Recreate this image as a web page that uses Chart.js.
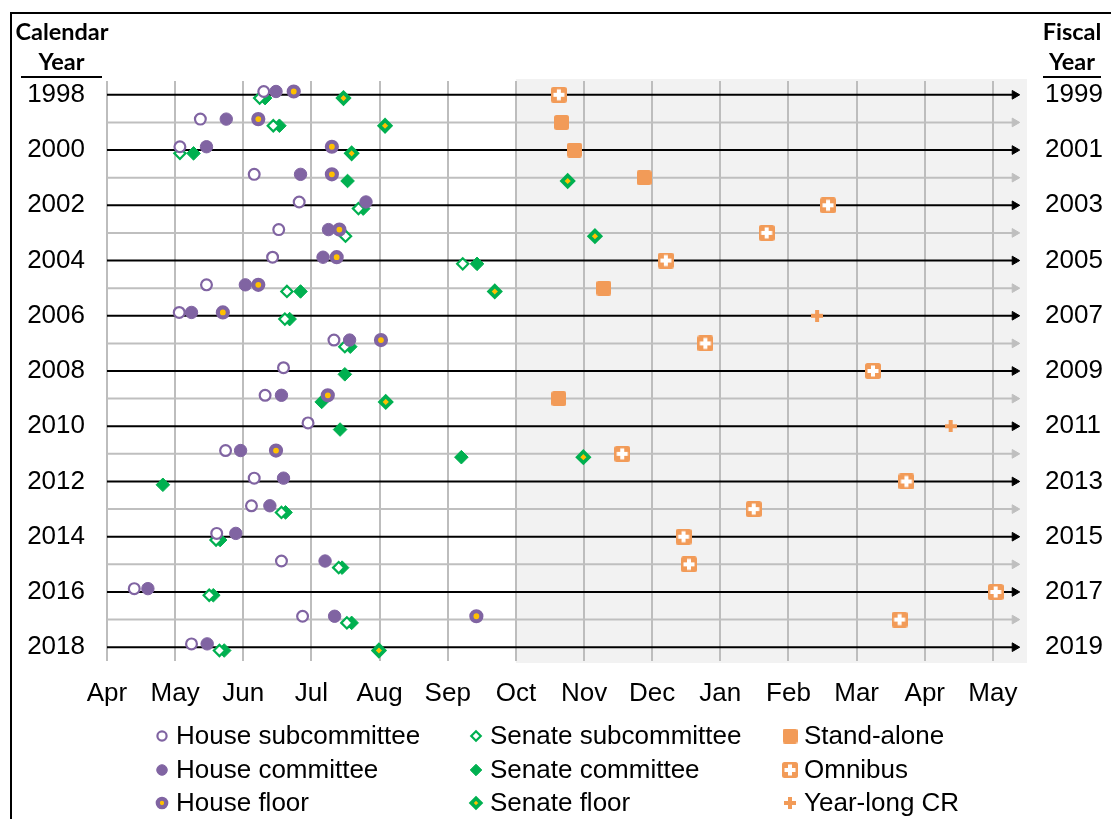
<!DOCTYPE html>
<html>

<head>
  <title>Appropriations Timeline</title>
  <script src="https://cdn.jsdelivr.net/npm/chart.js"></script>
  <style>
    body { margin: 0; background: #fff; }
    #wrap { position: relative; width: 1111px; height: 819px; overflow: hidden; }
    #frame { position: absolute; left: 10px; top: 12px; width: 1200px; height: 900px;
      border-left: 2px solid #000; border-top: 2px solid #000; }
    #box { position: absolute; left: 0; top: 0; width: 1111px; height: 819px; }
    .head { position: absolute; font-family: Lato, "Open Sans", sans-serif; font-weight: bold;
      font-size: 23.5px; color: #000; text-align: center; line-height: 30px; }
    .head span { display: block; border-bottom: 2px solid #000; }
  </style>
</head>

<body>
  <div id="wrap">
    <div id="frame"></div>
    <div id="box"><canvas id="timeline"></canvas></div>
    <div class="head" style="left:12px; top:16px; width:100px;">Calendar<span style="margin:0 10px 0 9px;">Year</span></div>
    <div class="head" style="left:1040px; top:16px; width:64px;">Fiscal<span style="margin:0 3px;">Year</span></div>
  </div>

  <script>
    // calendar years, one row each
    const years = [1998, 1999, 2000, 2001, 2002, 2003, 2004, 2005, 2006, 2007, 2008,
      2009, 2010, 2011, 2012, 2013, 2014, 2015, 2016, 2017, 2018];
    // months since April 1 of the calendar year (0 = Apr, 6 = Oct, 13 = next May)
    const monthLabels = ['Apr', 'May', 'Jun', 'Jul', 'Aug', 'Sep', 'Oct', 'Nov', 'Dec',
      'Jan', 'Feb', 'Mar', 'Apr', 'May'];

    const houseSub = [2.30, 1.37, 1.07, 2.16, 2.82, 2.52, 2.43, 1.46, 1.06, 3.33, 2.59,
      2.32, 2.95, 1.74, 2.16, 2.12, 1.61, 2.56, 0.40, 2.87, 1.24];
    const houseCommittee = [2.48, 1.75, 1.46, 2.84, 3.80, 3.25, 3.17, 2.03, 1.24, 3.56, null,
      2.56, null, 1.96, 2.59, 2.39, 1.89, 3.20, 0.60, 3.34, 1.47];
    const houseFloor = [2.74, 2.22, 3.30, 3.30, null, 3.41, 3.37, 2.22, 1.70, 4.02, null,
      3.24, null, 2.48, null, null, null, null, null, 5.42, null];
    const senateSub = [2.24, 2.44, 1.07, null, 3.69, 3.50, 5.22, 2.64, 2.61, 3.49, null,
      null, null, null, null, 2.56, 1.60, 3.40, 1.50, 3.52, 1.65];
    const senateCommittee = [2.32, 2.53, 1.27, 3.53, 3.76, null, 5.43, 2.84, 2.68, 3.57, 3.49,
      3.15, 3.42, 5.20, 0.82, 2.62, 1.66, 3.45, 1.56, 3.59, 1.72];
    const senateFloor = [3.47, 4.08, 3.59, 6.76, null, 7.16, null, 5.69, null, null, null,
      4.09, null, 6.99, null, null, null, null, null, null, 3.99];
    const standAlone = [null, 6.67, 6.86, 7.88, null, null, null, 7.29, null, null, null,
      6.63, null, null, null, null, null, null, null, null, null];
    const omnibus = [6.63, null, null, null, 10.58, 9.68, 8.20, null, null, 8.78, 11.24,
      null, null, 7.56, 11.73, 9.49, 8.46, 8.54, 13.04, 11.63, null];
    const yearLongCR = [null, null, null, null, null, null, null, null, 10.42, null, null,
      null, 12.38, null, null, null, null, null, null, null, null];

    const PURPLE = '#8064A2';
    const GREEN = '#00B050';
    const YELLOW = '#FFC000';
    const ORANGE = '#F29B58';
    const FONT = '"Liberation Sans", Arial, sans-serif';

    function makeIcon(size, draw) {
      const c = document.createElement('canvas');
      c.width = size;
      c.height = size;
      draw(c.getContext('2d'), size);
      return c;
    }
    function roundRect(ctx, s, r) {
      ctx.beginPath();
      ctx.moveTo(r, 0);
      ctx.arcTo(s, 0, s, s, r);
      ctx.arcTo(s, s, 0, s, r);
      ctx.arcTo(0, s, 0, 0, r);
      ctx.arcTo(0, 0, s, 0, r);
      ctx.closePath();
      ctx.fill();
    }
    const squareIcon = makeIcon(15, (ctx, s) => {
      ctx.fillStyle = ORANGE;
      roundRect(ctx, s, 2.5);
    });
    const omnibusIcon = makeIcon(16, (ctx, s) => {
      ctx.fillStyle = ORANGE;
      roundRect(ctx, s, 2.5);
      ctx.fillStyle = '#fff';
      ctx.fillRect(6, 2.5, 4, 11);
      ctx.fillRect(2.5, 6, 11, 4);
    });
    const plusIcon = makeIcon(12, (ctx, s) => {
      ctx.fillStyle = ORANGE;
      ctx.fillRect(4, 0, 4, 12);
      ctx.fillRect(0, 4, 12, 4);
    });

    function points(values, offset) {
      const out = [];
      values.forEach((v, i) => {
        if (v !== null) out.push({ x: v, y: years[i] + offset });
      });
      return out;
    }

    // House marks sit a little above each row line, Senate marks a little below
    const markSeries = [
      { label: 'House subcommittee', data: points(houseSub, -0.12), pointStyle: 'circle',
        pointRadius: 5.4, pointBorderWidth: 2.2, pointBackgroundColor: '#fff', pointBorderColor: PURPLE },
      { label: 'House committee', data: points(houseCommittee, -0.12), pointStyle: 'circle',
        pointRadius: 6.2, pointBorderWidth: 1, pointBackgroundColor: PURPLE, pointBorderColor: PURPLE },
      { label: 'House floor', data: points(houseFloor, -0.12), pointStyle: 'circle',
        pointRadius: 5, pointBorderWidth: 4.2, pointBackgroundColor: YELLOW, pointBorderColor: PURPLE },
      { label: 'Senate subcommittee', data: points(senateSub, 0.12), pointStyle: 'rectRot',
        pointRadius: 5.6, pointBorderWidth: 2.2, pointBackgroundColor: '#fff', pointBorderColor: GREEN },
      { label: 'Senate committee', data: points(senateCommittee, 0.12), pointStyle: 'rectRot',
        pointRadius: 6.8, pointBorderWidth: 1, pointBackgroundColor: GREEN, pointBorderColor: GREEN },
      { label: 'Senate floor', data: points(senateFloor, 0.12), pointStyle: 'rectRot',
        pointRadius: 5.6, pointBorderWidth: 3.6, pointBackgroundColor: YELLOW, pointBorderColor: GREEN },
      { label: 'Stand-alone', data: points(standAlone, 0), pointStyle: squareIcon,
        pointRadius: 7, pointBackgroundColor: ORANGE, pointBorderColor: ORANGE },
      { label: 'Omnibus', data: points(omnibus, 0), pointStyle: omnibusIcon,
        pointRadius: 7, pointBackgroundColor: ORANGE, pointBorderColor: ORANGE },
      { label: 'Year-long CR', data: points(yearLongCR, 0), pointStyle: plusIcon,
        pointRadius: 6, pointBackgroundColor: ORANGE, pointBorderColor: ORANGE }
    ];
    markSeries.forEach(s => { s.showLine = false; s.order = 1; });

    // one arrow per row; labelled (even) rows black, the others grey
    const arrowSeries = years.map(y => {
      const col = y % 2 === 0 ? '#000' : '#BFBFBF';
      return {
        label: 'row ' + y,
        data: [{ x: 0, y: y }, { x: 13.32, y: y }],
        showLine: true,
        borderColor: col,
        borderWidth: 2,
        pointStyle: 'triangle',
        pointRotation: 90,
        pointRadius: [0, 5],
        pointBorderWidth: 1,
        pointBackgroundColor: col,
        pointBorderColor: col,
        order: 10
      };
    });

    const shadePlugin = {
      id: 'shade',
      beforeDraw(chart) {
        const { ctx, chartArea, scales } = chart;
        const x0 = scales.x.getPixelForValue(6);
        ctx.save();
        ctx.fillStyle = '#F2F2F2';
        ctx.fillRect(x0, chartArea.top - 2, chartArea.right - x0, chartArea.bottom - chartArea.top + 4);
        ctx.restore();
      }
    };

    // legend in three columns, filled column by column
    const legendCols = [162, 476, 790];
    const legendRows = [736, 770, 803];
    const legendPlugin = {
      id: 'gridLegend',
      afterDraw(chart) {
        const ctx = chart.ctx;
        ctx.save();
        markSeries.forEach((s, i) => {
          const x = legendCols[Math.floor(i / 3)];
          const y = legendRows[i % 3];
          ctx.fillStyle = s.pointBackgroundColor;
          ctx.strokeStyle = s.pointBorderColor;
          ctx.lineWidth = s.pointBorderWidth || 0;
          Chart.helpers.drawPoint(ctx, {
            pointStyle: s.pointStyle,
            radius: s.pointRadius * 0.85,
            rotation: 0,
            borderWidth: (s.pointBorderWidth || 0) * 0.85
          }, x, y);
          ctx.fillStyle = '#000';
          ctx.font = '26px ' + FONT;
          ctx.textBaseline = 'middle';
          ctx.textAlign = 'left';
          ctx.fillText(s.label, x + 14, y + 1);
        });
        ctx.restore();
      }
    };

    const tickFont = { family: FONT, size: 26 };
    const rowTicks = scale => { scale.ticks = years.map(y => ({ value: y })); };

    new Chart(document.getElementById('timeline'), {
      type: 'scatter',
      data: { datasets: markSeries.concat(arrowSeries) },
      options: {
        responsive: true,
        maintainAspectRatio: false,
        animation: false,
        events: [],
        layout: { padding: { left: 0, right: 0, top: 81, bottom: 108 } },
        plugins: { legend: { display: false }, tooltip: { enabled: false } },
        elements: { point: { hitRadius: 0 } },
        clip: false,
        scales: {
          x: {
            type: 'linear',
            min: 0,
            max: 13.5,
            afterBuildTicks: scale => { scale.ticks = monthLabels.map((m, i) => ({ value: i })); },
            afterFit: scale => { scale.height = 50; },
            ticks: {
              autoSkip: false,
              maxRotation: 0,
              padding: 17,
              color: '#000',
              font: tickFont,
              callback: v => monthLabels[v]
            },
            grid: { color: '#BDBDBD', lineWidth: 2, drawTicks: false },
            border: { display: false }
          },
          y: {
            type: 'linear',
            position: 'left',
            reverse: true,
            min: 1997.5,
            max: 2018.5,
            afterBuildTicks: rowTicks,
            afterFit: scale => { scale.width = 107; },
            ticks: {
              autoSkip: false,
              padding: 22,
              color: '#000',
              font: tickFont,
              callback: v => (v % 2 === 0 ? String(v) : '')
            },
            grid: { display: false, drawTicks: false },
            border: { display: false }
          },
          fy: {
            type: 'linear',
            position: 'right',
            reverse: true,
            min: 1997.5,
            max: 2018.5,
            afterBuildTicks: rowTicks,
            afterFit: scale => { scale.width = 84; },
            ticks: {
              autoSkip: false,
              padding: 18,
              color: '#000',
              font: tickFont,
              callback: v => (v % 2 === 0 ? String(v + 1) : '')
            },
            grid: { display: false, drawTicks: false },
            border: { display: false }
          }
        }
      },
      plugins: [shadePlugin, legendPlugin]
    });
  </script>
</body>

</html>
